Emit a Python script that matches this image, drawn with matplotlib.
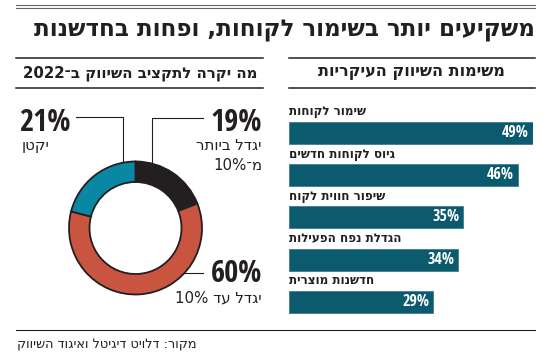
import re
import matplotlib
matplotlib.use("Agg")
import matplotlib.pyplot as plt

plt.rcParams['font.family'] = ['DejaVu Sans']

# data
title = 'משקיעים יותר בשימור לקוחות, ופחות בחדשנות'
left_title = 'מה יקרה לתקציב השיווק ב־2022'
right_title = 'משימות השיווק העיקריות'
source = 'מקור: דלויט דיגיטל ואיגוד השיווק'

tasks = ['שימור לקוחות', 'גיוס לקוחות חדשים', 'שיפור חווית לקוח',
         'הגדלת נפח הפעילות', 'חדשנות מוצרית']
task_pct = [49, 46, 35, 34, 29]

budget_labels = ['יגדל ביותר\nמ־10%', 'יגדל עד 10%', 'יקטן']
budget_pct = [19, 60, 21]
budget_colors = ['#231f20', '#c9543f', '#0a87a3']

BAR = '#0c5a6e'
INK = '#231f20'
NARROW = ['Open Sans Condensed', 'Roboto Condensed', 'Roboto', 'DejaVu Sans']


def vis(s):
    # matplotlib has no bidi, so flip Hebrew to visual order, keep numbers
    return '\n'.join(re.sub(r'[0-9%]+', lambda m: m.group()[::-1], l[::-1])
                     for l in s.split('\n'))


W, H = 550, 355
fig = plt.figure(figsize=(W / 100, H / 100), dpi=100)

# overlay in pixel coordinates for rules, titles and callouts
ov = fig.add_axes([0, 0, 1, 1])
ov.set_xlim(0, W)
ov.set_ylim(H, 0)
ov.axis('off')

ov.plot([16, 535], [4.5, 4.5], color='#666666', lw=0.8)
ov.plot([16, 535], [7.5, 7.5], color='#666666', lw=0.8)
ov.text(535, 30, vis(title), ha='right', va='center', fontsize=16.6,
        fontweight='bold', color=INK)

for x0, x1 in [(16, 263), (289, 535)]:
    ov.plot([x0, x1], [58, 58], color=INK, lw=1.1)
    ov.plot([x0, x1], [88, 88], color=INK, lw=1.1)
ov.text(140, 73, vis(left_title), ha='center', va='center', fontsize=10.8,
        fontweight='bold', color=INK)
ov.text(411, 73, vis(right_title), ha='center', va='center', fontsize=11.5,
        fontweight='bold', color=INK)

ov.plot([16, 535], [330, 330], color=INK, lw=0.8)
ov.text(17, 345, vis(source), ha='left', va='center', fontsize=9.3, color=INK)

# bars
axb = fig.add_axes([289 / W, (H - 323.1) / H, 244 / W, 211.25 / H])
ypos = list(range(len(tasks)))
axb.barh(ypos, task_pct, height=0.52, color=BAR, edgecolor='#3f7d8c', lw=0.6)
axb.set_xlim(0, 49)
axb.set_ylim(4.5, -0.5)
axb.axis('off')
for i, (t, v) in enumerate(zip(tasks, task_pct)):
    axb.text(0.1, i - 0.5, vis(t), ha='left', va='center', fontsize=8.6,
             fontweight='bold', color=INK, clip_on=False)
    axb.text(v - 0.8, i, f'{v}%', ha='right', va='center', fontsize=11.5,
             fontweight='bold', family=NARROW, color='white')

# donut
cx, cy, box = 135.5, 228, 160
axd = fig.add_axes([(cx - box / 2) / W, (H - cy - box / 2) / H, box / W, box / H])
axd.pie(budget_pct, colors=budget_colors, startangle=90, counterclock=False,
        radius=66.5, wedgeprops=dict(width=20.5, edgecolor=INK, linewidth=1.3))
axd.set_xlim(-box / 2, box / 2)
axd.set_ylim(-box / 2, box / 2)
axd.set_aspect('equal')
axd.axis('off')

# callouts
ov.plot([76, 123, 123], [117, 117, 163], color=INK, lw=0.8)
ov.plot([203, 152, 152], [118, 118, 164], color=INK, lw=0.8)
ov.plot([173, 203], [273, 273], color=INK, lw=0.8)

big = dict(fontsize=22, fontweight='bold', family=NARROW, color=INK,
           va='baseline')
ov.text(19, 131, f'{budget_pct[2]}%', ha='left', **big)
ov.text(262, 131, f'{budget_pct[0]}%', ha='right', **big)
ov.text(262, 282, f'{budget_pct[1]}%', ha='right', **big)

small = dict(fontsize=10.8, color=INK, va='baseline')
lines19 = budget_labels[0].split('\n')
ov.text(22, 150, vis(budget_labels[2]), ha='left', **small)
ov.text(262, 150, vis(lines19[0]), ha='right', **small)
ov.text(262, 170, vis(lines19[1]), ha='right', **small)
ov.text(262, 302, vis(budget_labels[1]), ha='right', **small)

fig.savefig('out.png', dpi=100)
